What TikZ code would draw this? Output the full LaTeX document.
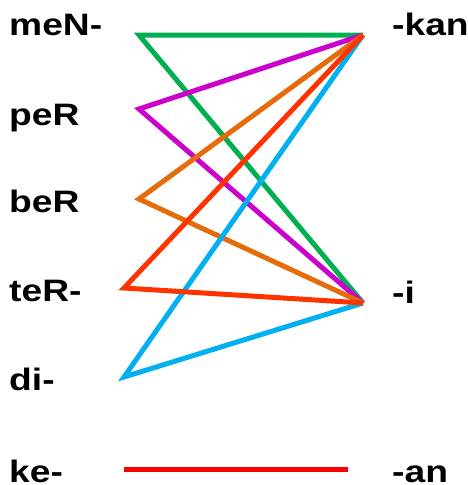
\documentclass[tikz,border=0pt]{standalone}
\usepackage{fontspec}
\newfontfamily\lblfont{Liberation Sans}[FakeStretch=1.2]
\usepackage{xcolor}
\definecolor{lkgreen}{RGB}{0,176,80}
\definecolor{lkmagenta}{RGB}{204,0,204}
\definecolor{lkorange}{RGB}{228,108,10}
\definecolor{lkorred}{RGB}{255,51,0}
\definecolor{lkcyan}{RGB}{0,176,240}
\definecolor{lkred}{RGB}{255,0,0}
\usepackage{tikz}
\tikzset{
  affix/.style={
    inner sep=0pt, anchor=base west,
    font=\lblfont\bfseries\fontsize{31}{31}\selectfont},
  link/.style={line width=5pt, line join=miter},
}

\begin{document}
\begin{tikzpicture}[x=1pt, y=-1pt]
  \useasboundingbox (0,0) rectangle (468,485);
  % prefixes
  \node[affix] (men) at (9,35) {meN-};
  \node[affix] (per) at (9,125) {peR};
  \node[affix] (ber) at (9,212) {beR};
  \node[affix] (ter) at (9,301) {teR-};
  \node[affix] (di) at (9,390) {di-};
  \node[affix] (ke) at (9,482) {ke-};
  % suffixes
  \node[affix] (kan) at (392,35) {-kan};
  \node[affix] (i) at (392,303) {-i};
  \node[affix] (an) at (392,482) {-an};
  % line ends
  \coordinate (men-r) at (139,35);
  \coordinate (per-r) at (139,109);
  \coordinate (ber-r) at (139,199);
  \coordinate (ter-r) at (124,288);
  \coordinate (di-r) at (124,377);
  \coordinate (ke-r) at (124,469);
  \coordinate (kan-l) at (363,35);
  \coordinate (i-l) at (363,303);
  \coordinate (an-l) at (348,469);
  \draw[link, lkgreen] (kan-l) -- (men-r) -- (i-l);
  \draw[link, lkmagenta] (kan-l) -- (per-r) -- (i-l);
  \draw[link, lkorange] (kan-l) -- (ber-r) -- (i-l);
  \draw[link, lkcyan] (kan-l) -- (di-r) -- (i-l);
  \draw[link, lkorred] (kan-l) -- (ter-r) -- (i-l);
  \draw[link, lkred] (ke-r) -- (an-l);
\end{tikzpicture}
\end{document}
